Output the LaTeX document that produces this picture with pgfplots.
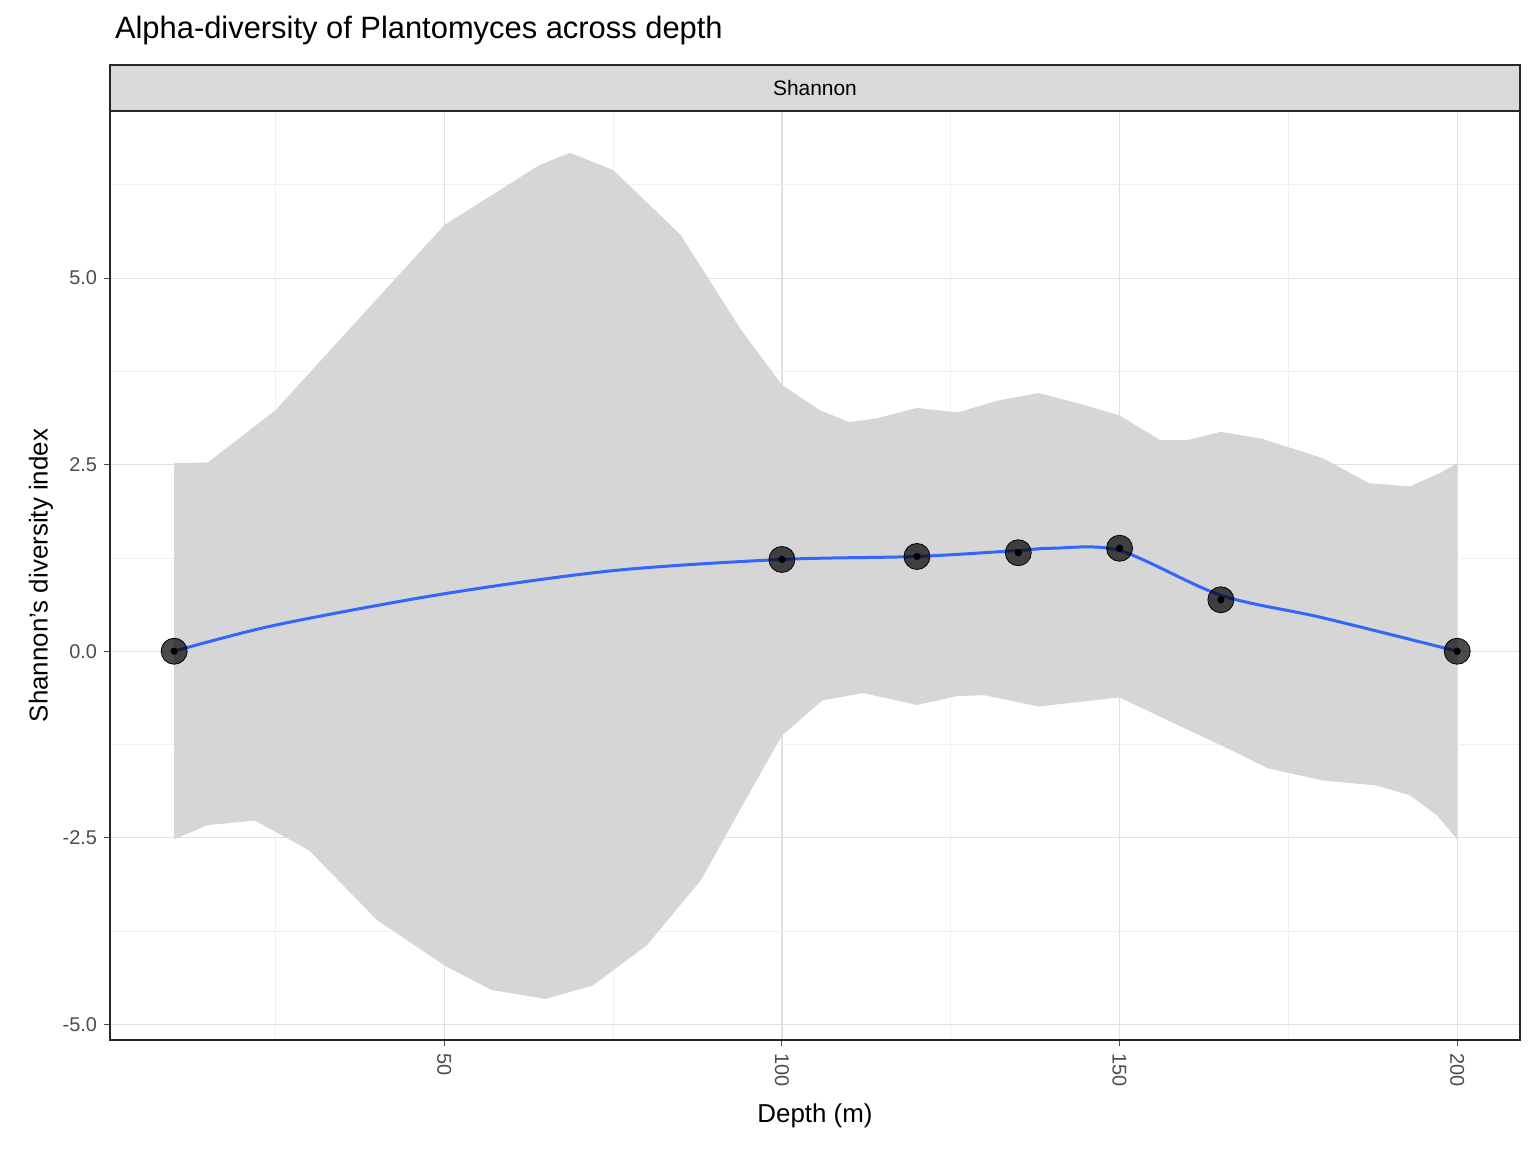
\documentclass[border=0pt]{standalone}
\usepackage{pgfplots}
\pgfplotsset{compat=1.18}
\usepackage{fontspec}
\setmainfont{Liberation Sans}
\usepgfplotslibrary{fillbetween}
\begin{document}
\begin{tikzpicture}
\begin{axis}[
  at={(0,0)}, anchor=south west,
  scale only axis, width=705bp, height=464.5bp,
  xmin=0.5, xmax=209.3, ymin=-5.21, ymax=7.24,
  xtick={50,100,150,200}, minor xtick={25,75,125,175},
  ytick={-5,-2.5,0,2.5,5}, minor ytick={-3.75,-1.25,1.25,3.75,6.25},
  yticklabels={-5.0,-2.5,0.0,2.5,5.0},
  xticklabel style={rotate=-90, anchor=west, font=\fontsize{10}{12}\selectfont, text=black!70},
  yticklabel style={font=\fontsize{10}{12}\selectfont, text=black!70},
  /pgf/number format/assume math mode=true,
  grid=both, major grid style={black!12, line width=0.6bp}, minor grid style={black!6, line width=0.4bp},
  tick align=outside, tickpos=left, major tick length=3bp, minor tick length=0pt,
  tick style={black!70, line width=0.5bp},
  axis line style={black!85, line width=0.6bp},
  xlabel={Depth (m)}, ylabel={Shannon's diversity index},
  label style={font=\fontsize{13}{15}\selectfont},
  xlabel style={yshift=-2bp}, ylabel style={yshift=-2bp},
]
\addplot[name path=up, draw=none] coordinates {(10,2.52)(15,2.53)(25,3.23)(50,5.71)(64,6.51)(68.6,6.68)(75,6.45)(85,5.58)(94,4.3)(100,3.57)(105.6,3.23)(110,3.07)(114,3.12)(120,3.26)(126,3.2)(132,3.36)(138,3.46)(144,3.32)(150,3.16)(156,2.83)(160,2.83)(165,2.94)(171,2.85)(180,2.59)(187,2.25)(193,2.21)(197.5,2.39)(200,2.52)};
\addplot[name path=lo, draw=none] coordinates {(10,-2.52)(15,-2.33)(22,-2.27)(30,-2.67)(40,-3.6)(50,-4.21)(57,-4.54)(65,-4.66)(72,-4.48)(80,-3.94)(88,-3.07)(95,-1.93)(100,-1.13)(106,-0.66)(112,-0.56)(120,-0.72)(126,-0.6)(130,-0.59)(138,-0.74)(150,-0.62)(157,-0.92)(165,-1.26)(172,-1.57)(180,-1.73)(188,-1.8)(193,-1.93)(197,-2.2)(200,-2.52)};
\addplot[fill=black!16, draw=none] fill between[of=up and lo];
\addplot[smooth, color={rgb,255:red,51;green,102;blue,255}, line width=1.5bp] coordinates {(10,0)(25,0.35)(50,0.77)(75,1.08)(100,1.23)(120,1.27)(135,1.35)(140,1.38)(150,1.35)(165,0.75)(180,0.45)(200,0)};
\addplot[only marks, mark=*, mark size=6.5bp, mark options={fill=black, fill opacity=0.7, draw=none}] coordinates {(10,0)(100,1.23)(120,1.27)(135,1.32)(150,1.38)(165,0.69)(200,0)};
\addplot[only marks, mark=*, mark size=1.6bp, mark options={fill=black, draw=none}] coordinates {(10,0)(100,1.23)(120,1.27)(135,1.32)(150,1.38)(165,0.69)(200,0)};
\end{axis}
\draw[fill=black!15, draw=black!85, line width=0.6bp] (0,464.5bp) rectangle (705bp,487.5bp);
\node[font=\fontsize{10.5}{12}\selectfont] at (352.5bp,476bp) {Shannon};
\node[anchor=west, font=\fontsize{15.5}{18}\selectfont] at (-1bp,504.5bp) {Alpha-diversity of Plantomyces across depth};
\path[use as bounding box] (-55bp,-56bp) rectangle (713bp,520bp);
\end{tikzpicture}
\end{document}
